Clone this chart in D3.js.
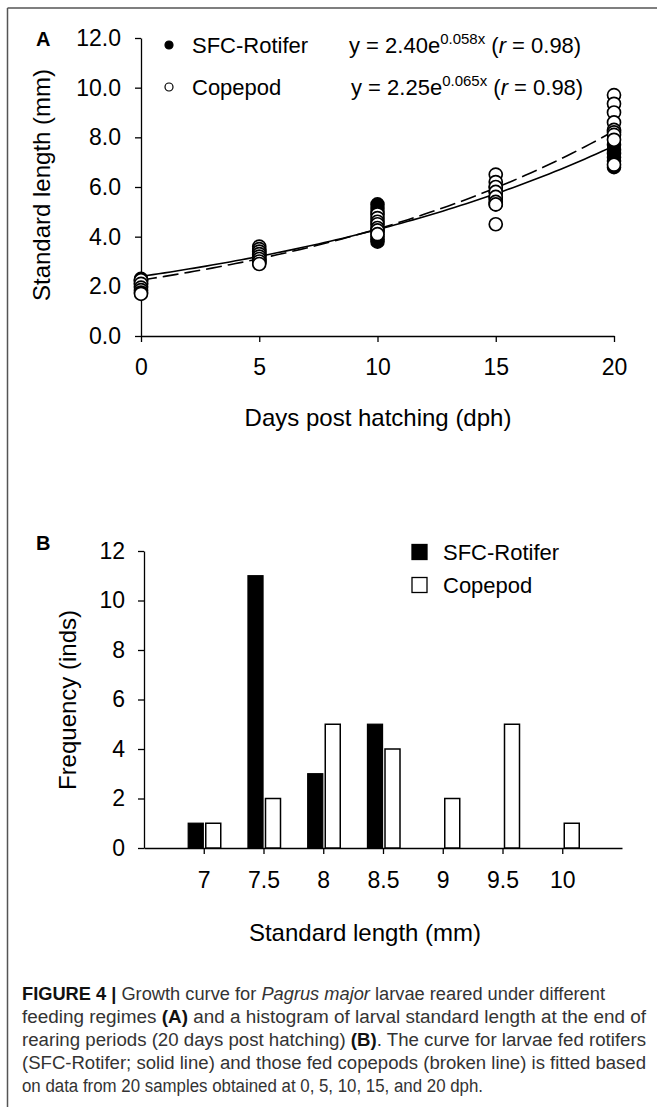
<!DOCTYPE html>
<html>
<head>
<meta charset="utf-8">
<script src="https://cdn.jsdelivr.net/npm/d3@7.9.0/dist/d3.min.js"></script>
<style>
  body { margin: 0; background: #fff; }
  svg { display: block; font-family: "Liberation Sans", Arial, sans-serif; }
</style>
</head>
<body>
<svg id="fig" width="657" height="1107"></svg>
<script>
// ---- data ----
const days = [0, 5, 10, 15, 20];
// standard length (mm) of sampled larvae, one list per sampling day
const rotiferLengths = [
  [2.3, 2.25, 2.2, 2.15, 2.1, 2.0],
  [3.4, 3.3, 3.2, 3.1, 3.0, 2.95],
  [5.3, 5.15, 5.0, 4.2, 4.0, 3.9, 3.8],
  [6.0, 5.8, 5.6, 5.5, 5.3],
  [7.7, 7.5, 7.35, 7.2, 7.05, 6.8]
];
const copepodLengths = [
  [2.25, 2.1, 1.95, 1.85, 1.75, 1.7],
  [3.6, 3.5, 3.4, 3.3, 3.2, 3.1, 3.0, 2.9],
  [4.9, 4.75, 4.6, 4.5, 4.35, 4.25, 4.1],
  [6.5, 6.2, 6.0, 5.8, 5.6, 5.4, 5.3, 4.5],
  [9.7, 9.35, 9.0, 8.6, 8.3, 8.2, 8.1, 7.9, 6.9]
];
// fitted curves y = a * e^(b x), as printed on the chart
const fitNames = ["SFC-Rotifer", "Copepod"];
const fitA = [2.40, 2.25];
const fitB = [0.058, 0.065];
const fitR = [0.98, 0.98];

const xTicksA = [0, 5, 10, 15, 20];
const yTicksA = [0, 2, 4, 6, 8, 10, 12];

// histogram at 20 dph
const lengthBins = [7, 7.5, 8, 8.5, 9, 9.5, 10];
const rotiferFreq = [1, 11, 3, 5, 0, 0, 0];
const copepodFreq = [1, 2, 5, 4, 2, 5, 1];
const yTicksB = [0, 2, 4, 6, 8, 10, 12];

const caption = [
  [["FIGURE 4 | ", "b"], ["Growth curve for ", ""], ["Pagrus major", "i"], [" larvae reared under different", ""]],
  [["feeding regimes ", ""], ["(A)", "b"], [" and a histogram of larval standard length at the end of", ""]],
  [["rearing periods (20 days post hatching) ", ""], ["(B)", "b"], [". The curve for larvae fed rotifers", ""]],
  [["(SFC-Rotifer; solid line) and those fed copepods (broken line) is fitted based", ""]],
  [["on data from 20 samples obtained at 0, 5, 10, 15, and 20 dph.", ""]]
];
const captionWidths = [583, 624, 624, 624, 461];

const svg = d3.select("#fig");

// frame lines of the figure box
svg.append("line").attr("x1", 7.5).attr("x2", 657).attr("y1", 8).attr("y2", 8)
  .attr("stroke", "#555").attr("stroke-width", 1.5);
svg.append("line").attr("x1", 7.5).attr("x2", 7.5).attr("y1", 8).attr("y2", 1107)
  .attr("stroke", "#555").attr("stroke-width", 1.5);

function styleAxis(g, size) {
  g.attr("font-size", size).attr("font-family", null);
  g.selectAll("path, line").attr("stroke", "#000").attr("stroke-width", 1.3);
  g.selectAll("text").attr("fill", "#000");
}

// ================= Panel A =================
const xA = d3.scaleLinear().domain([0, 20]).range([141, 614]);
const yA = d3.scaleLinear().domain([0, 12]).range([336, 38]);

svg.append("g").attr("transform", "translate(0,336)")
  .call(d3.axisBottom(xA).tickValues(xTicksA).tickSize(6).tickSizeOuter(0).tickPadding(17))
  .call(g => styleAxis(g, 23));
svg.append("g").attr("transform", "translate(141,0)")
  .call(d3.axisLeft(yA).tickValues(yTicksA).tickFormat(d3.format(".1f")).tickSize(6).tickSizeOuter(0).tickPadding(14))
  .call(g => styleAxis(g, 23));

svg.append("text").attr("x", 378).attr("y", 426).attr("text-anchor", "middle")
  .attr("font-size", 24).text("Days post hatching (dph)");
svg.append("text").attr("transform", "translate(50,185) rotate(-90)").attr("text-anchor", "middle")
  .attr("font-size", 24).text("Standard length (mm)");
svg.append("text").attr("x", 36).attr("y", 46).attr("font-size", 20).attr("font-weight", "bold").text("A");

// fitted curves
const curveX = d3.range(0, 20.001, 0.25);
const line = d3.line().x(d => xA(d[0])).y(d => yA(d[1]));
fitA.forEach((a, i) => {
  svg.append("path")
    .attr("d", line(curveX.map(x => [x, a * Math.exp(fitB[i] * x)])))
    .attr("fill", "none").attr("stroke", "#000").attr("stroke-width", 1.6)
    .attr("stroke-dasharray", i === 1 ? "16,6" : null);
});

// points: rotifer (filled) below, copepod (open) on top
const flat = arr => arr.flatMap((vals, i) => vals.map(v => [days[i], v]));
svg.append("g").selectAll("circle").data(flat(rotiferLengths)).join("circle")
  .attr("cx", d => xA(d[0])).attr("cy", d => yA(d[1])).attr("r", 6.5)
  .attr("fill", "#000").attr("stroke", "#000").attr("stroke-width", 1.6);
svg.append("g").selectAll("circle").data(flat(copepodLengths)).join("circle")
  .attr("cx", d => xA(d[0])).attr("cy", d => yA(d[1])).attr("r", 6.5)
  .attr("fill", "#fff").attr("stroke", "#000").attr("stroke-width", 1.7);

// legend + equations
const legA = svg.append("g").attr("font-size", 22);
fitNames.forEach((name, i) => {
  const yy = 45 + i * 42;
  legA.append("circle").attr("cx", 169).attr("cy", yy).attr("r", 4)
    .attr("fill", i === 0 ? "#000" : "#fff").attr("stroke", "#000").attr("stroke-width", 1.2);
  legA.append("text").attr("x", 192).attr("y", yy + 8).text(name);
  const eq = legA.append("text").attr("x", 349 + i * 2).attr("y", yy + 8);
  eq.append("tspan").text(`y = ${fitA[i].toFixed(2)}e`);
  eq.append("tspan").attr("font-size", 15).attr("dy", -9).text(`${fitB[i].toFixed(3)}x`);
  eq.append("tspan").attr("dy", 9).text(" (");
  eq.append("tspan").attr("font-style", "italic").text("r");
  eq.append("tspan").text(` = ${fitR[i].toFixed(2)})`);
});

// ================= Panel B =================
const xB = d3.scaleLinear().domain([6.5, 10.5]).range([144, 622]);
const yB = d3.scaleLinear().domain([0, 12]).range([848, 551]);

svg.append("g").attr("transform", "translate(0,848)")
  .call(d3.axisBottom(xB).tickValues(lengthBins).tickFormat(d => String(d)).tickSize(6).tickSizeOuter(0).tickPadding(18))
  .call(g => styleAxis(g, 23));
svg.append("g").attr("transform", "translate(144,0)")
  .call(d3.axisLeft(yB).tickValues(yTicksB).tickSize(6).tickSizeOuter(0).tickPadding(13))
  .call(g => styleAxis(g, 23));

svg.append("text").attr("x", 365).attr("y", 941).attr("text-anchor", "middle")
  .attr("font-size", 24).text("Standard length (mm)");
svg.append("text").attr("transform", "translate(76,700) rotate(-90)").attr("text-anchor", "middle")
  .attr("font-size", 24).text("Frequency (inds)");
svg.append("text").attr("x", 36).attr("y", 550).attr("font-size", 20).attr("font-weight", "bold").text("B");

const barW = 15;
svg.append("g").selectAll("rect").data(lengthBins.map((b, i) => [b, rotiferFreq[i]]).filter(d => d[1] > 0)).join("rect")
  .attr("x", d => xB(d[0]) - barW - 0.5).attr("width", barW)
  .attr("y", d => yB(d[1])).attr("height", d => yB(0) - yB(d[1]))
  .attr("fill", "#000").attr("stroke", "#000").attr("stroke-width", 1.3);
svg.append("g").selectAll("rect").data(lengthBins.map((b, i) => [b, copepodFreq[i]]).filter(d => d[1] > 0)).join("rect")
  .attr("x", d => xB(d[0]) + 2).attr("width", barW)
  .attr("y", d => yB(d[1])).attr("height", d => yB(0) - yB(d[1]))
  .attr("fill", "#fff").attr("stroke", "#000").attr("stroke-width", 1.5);

const legB = svg.append("g").attr("font-size", 22);
fitNames.forEach((name, i) => {
  const yy = 552 + i * 33;
  legB.append("rect").attr("x", 412).attr("y", yy - 7.5).attr("width", 15).attr("height", 15)
    .attr("fill", i === 0 ? "#000" : "#fff").attr("stroke", "#000").attr("stroke-width", 1.3);
  legB.append("text").attr("x", 443).attr("y", yy + 8).text(name);
});

// ================= Caption =================
const cap = svg.append("g").attr("font-size", 18).attr("fill", "#333");
caption.forEach((segs, i) => {
  const t = cap.append("text").attr("x", 22).attr("y", 1000 + i * 23)
    .attr("textLength", captionWidths[i]).attr("lengthAdjust", "spacingAndGlyphs");
  segs.forEach(([txt, st]) => {
    t.append("tspan").text(txt)
      .attr("font-weight", st === "b" ? "bold" : null)
      .attr("font-style", st === "i" ? "italic" : null)
      .attr("fill", st === "b" ? "#111" : null);
  });
});
</script>
</body>
</html>
